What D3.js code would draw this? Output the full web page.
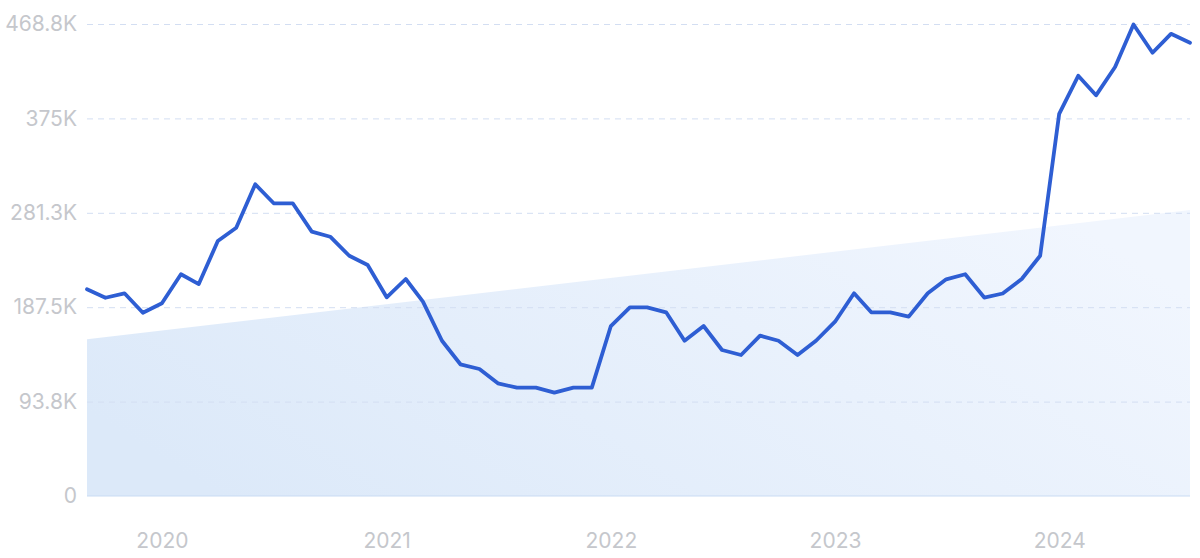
<!DOCTYPE html>
<html>
<head>
<meta charset="utf-8">
<script src="https://cdn.jsdelivr.net/npm/d3@7"></script>
<style>
  html, body { margin: 0; padding: 0; background: #ffffff; }
  svg { display: block; }
  text { font-family: Inter, "Noto Sans", sans-serif; }
</style>
</head>
<body>
<svg id="chart" width="1200" height="558"></svg>
<script>
// ---- data ----
const startMonth = "2019-09";
const values = [
  205300, 196900, 201300, 182000, 191400, 220200, 210500, 253200, 266400, 309600,
  290700, 290700, 262500, 257500, 238600, 229400, 197300, 215500, 193000, 154200,
  130800, 126100, 111900, 107600, 107600, 102600, 107600, 107600, 168800, 187400,
  187400, 182400, 154200, 168800, 145000, 140000, 159200, 154200, 140000, 154200,
  173100, 201300, 182400, 182400, 178100, 201300, 215200, 220200, 197100, 201100,
  215500, 238600, 379500, 417300, 397900, 426100, 468200, 440200, 459000, 450200
];
const trendValues = [155600, 284000];
const yTicks = [0, 93750, 187500, 281250, 375000, 468750];
const yTickLabels = ["0", "93.8K", "187.5K", "281.3K", "375K", "468.8K"];
const xTickYears = [2020, 2021, 2022, 2023, 2024];

// ---- layout ----
const W = 1200, H = 558;
const m = { left: 87, right: 10, top: 24, bottom: 62 };
const svg = d3.select("#chart");

const parse = d3.timeParse("%Y-%m");
const d0 = parse(startMonth);
const dates = values.map((_, i) => d3.timeMonth.offset(d0, i));
const data = values.map((v, i) => ({ date: dates[i], value: v }));

const x = d3.scaleTime()
  .domain([dates[0], dates[dates.length - 1]])
  .range([m.left, W - m.right]);
const y = d3.scaleLinear()
  .domain([0, 468750])
  .range([H - m.bottom, m.top]);

// gradient for trend area
const defs = svg.append("defs");
const grad = defs.append("linearGradient")
  .attr("id", "areaGrad")
  .attr("x1", "0%").attr("y1", "70%")
  .attr("x2", "100%").attr("y2", "30%");
grad.append("stop").attr("offset", "0%").attr("stop-color", "#dce9f9");
grad.append("stop").attr("offset", "100%").attr("stop-color", "#f1f6fe");

// trend area
const trendData = [
  { date: dates[0], value: trendValues[0] },
  { date: dates[dates.length - 1], value: trendValues[1] }
];
svg.append("path")
  .datum(trendData)
  .attr("fill", "url(#areaGrad)")
  .attr("d", d3.area()
    .x(d => x(d.date))
    .y0(y(0))
    .y1(d => y(d.value)));

// gridlines
const yAxisGrid = d3.axisLeft(y)
  .tickValues(yTicks.slice(1))
  .tickSize(-(W - m.left - m.right))
  .tickFormat("");
svg.append("g")
  .attr("transform", `translate(${m.left},0)`)
  .call(yAxisGrid)
  .call(g => g.select(".domain").remove())
  .call(g => g.selectAll(".tick line")
    .attr("stroke", "#d3def2")
    .attr("stroke-width", 1)
    .attr("stroke-dasharray", "6,5"));

// baseline
svg.append("line")
  .attr("x1", m.left).attr("x2", W - m.right)
  .attr("y1", y(0)).attr("y2", y(0))
  .attr("stroke", "#c9dbf3").attr("stroke-width", 1);

// y labels
const yAxis = d3.axisLeft(y)
  .tickValues(yTicks)
  .tickSize(0)
  .tickPadding(10)
  .tickFormat((d, i) => yTickLabels[i]);
svg.append("g")
  .attr("transform", `translate(${m.left},0)`)
  .call(yAxis)
  .call(g => g.select(".domain").remove())
  .call(g => g.selectAll(".tick text")
    .attr("fill", "#c5c7cc")
    .style("font-size", "21px")
    .style("font-family", "Inter, 'Noto Sans', sans-serif"));

// x labels
const xAxis = d3.axisBottom(x)
  .tickValues(xTickYears.map(yr => new Date(yr, 0, 1)))
  .tickSize(0)
  .tickPadding(37)
  .tickFormat(d3.timeFormat("%Y"));
svg.append("g")
  .attr("transform", `translate(0,${y(0)})`)
  .call(xAxis)
  .call(g => g.select(".domain").remove())
  .call(g => g.selectAll(".tick text")
    .attr("fill", "#c5c7cc")
    .style("font-size", "21px")
    .style("font-family", "Inter, 'Noto Sans', sans-serif"));

// line
svg.append("path")
  .datum(data)
  .attr("fill", "none")
  .attr("stroke", "#2e5ed3")
  .attr("stroke-width", 3.8)
  .attr("stroke-linejoin", "round")
  .attr("stroke-linecap", "round")
  .attr("d", d3.line().x(d => x(d.date)).y(d => y(d.value)));
</script>
</body>
</html>
